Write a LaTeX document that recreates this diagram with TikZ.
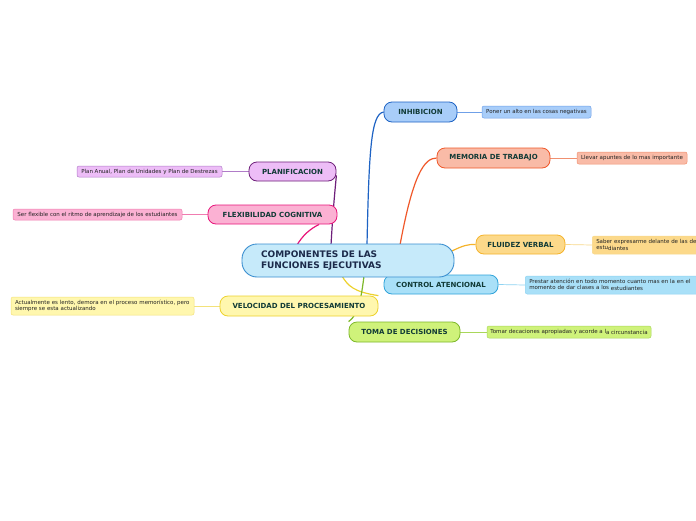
\documentclass[tikz,border=0pt]{standalone}
\usepackage{fontspec}
\setmainfont{DejaVu Sans}
\newfontfamily\lblfont{DejaVu Sans}
\definecolor{maintxt}{HTML}{1B2A4A}
\definecolor{brtxt}{HTML}{113A36}
\definecolor{leaftxt}{HTML}{222222}
\definecolor{mainfill}{HTML}{C6EAFA}
\definecolor{maindraw}{HTML}{3B8FD0}
\definecolor{inhfill}{HTML}{A8CDF9}
\definecolor{inhdraw}{HTML}{1E63C4}
\definecolor{inhleaf}{HTML}{6FA0E8}
\definecolor{memfill}{HTML}{F9BBA7}
\definecolor{memdraw}{HTML}{F0582A}
\definecolor{memleaf}{HTML}{F09070}
\definecolor{flufill}{HTML}{FCD98A}
\definecolor{fludraw}{HTML}{F5B32A}
\definecolor{fluleaf}{HTML}{F8D88A}
\definecolor{confill}{HTML}{A9E0F8}
\definecolor{condraw}{HTML}{2FA3DA}
\definecolor{conleaf}{HTML}{8ED3F2}
\definecolor{tomfill}{HTML}{CFF27A}
\definecolor{tomdraw}{HTML}{7DB82A}
\definecolor{tomleaf}{HTML}{A9D75A}
\definecolor{velfill}{HTML}{FFF7AE}
\definecolor{veldraw}{HTML}{EDD22E}
\definecolor{velleaf}{HTML}{F3E27A}
\definecolor{flxfill}{HTML}{FBB1D3}
\definecolor{flxdraw}{HTML}{E8147A}
\definecolor{flxleaf}{HTML}{F07CB0}
\definecolor{plafill}{HTML}{EDBDF7}
\definecolor{pladraw}{HTML}{6E1F7A}
\definecolor{plaleaf}{HTML}{B07CC8}
\pgfdeclarelayer{bg}
\pgfdeclarelayer{back}
\pgfsetlayers{back,bg,main}
\tikzset{
  mainbox/.style={draw=maindraw, fill=mainfill, line width=0.9pt, rounded corners=15pt,
    font=\lblfont\bfseries\fontsize{9}{10.8}\selectfont, text=maintxt, align=left,
    text width=174pt, inner xsep=19pt, inner ysep=0pt, minimum height=33pt, anchor=center},
  branch/.style={line width=0.8pt, rounded corners=8pt, inner sep=0pt,
    font=\lblfont\bfseries\fontsize{7}{8}\selectfont, text=brtxt, anchor=center},
  leaf/.style={line width=0.5pt, rounded corners=2pt, inner sep=0pt,
    font=\lblfont\fontsize{5.5}{6.6}\selectfont, text=leaftxt, anchor=center},
  conn/.style={line width=1.2pt},
  lconn/.style={line width=0.7pt}
}
\begin{document}
\begin{tikzpicture}[x=1pt,y=-1pt]
\useasboundingbox (0,0) rectangle (696,520);
\begin{pgfonlayer}{back}
\fill[white] (0,0) rectangle (696,520);
\end{pgfonlayer}

\coordinate (cInh) at (367,245);
\coordinate (cMem) at (400,245);
\coordinate (cPla) at (331,245);
\coordinate (cFlx) at (297,245);
\coordinate (cFlu) at (452,251);
\coordinate (cVel) at (342,276);
\coordinate (cTom) at (364,276);

% branch nodes
\node[branch, draw=inhdraw, fill=inhfill, minimum width=73pt, minimum height=20pt] (inh) at (420.5,112) {INHIBICION};
\node[branch, draw=memdraw, fill=memfill, minimum width=113pt, minimum height=20pt] (mem) at (493.5,158) {MEMORIA DE TRABAJO};
\node[branch, draw=fludraw, fill=flufill, minimum width=89pt, minimum height=19pt] (flu) at (520.5,244.5) {FLUIDEZ VERBAL};
\node[branch, draw=tomdraw, fill=tomfill, minimum width=111pt, minimum height=20pt] (tom) at (404.5,332) {TOMA DE DECISIONES};
\node[branch, draw=veldraw, fill=velfill, minimum width=158pt, minimum height=20pt] (vel) at (299,306) {VELOCIDAD DEL PROCESAMIENTO};
\node[branch, draw=flxdraw, fill=flxfill, minimum width=129pt, minimum height=19pt] (flx) at (272.5,214.5) {FLEXIBILIDAD COGNITIVA};
\node[branch, draw=pladraw, fill=plafill, minimum width=87pt, minimum height=19pt] (pla) at (292.5,171.5) {PLANIFICACION};

% leaves
\node[leaf, draw=inhleaf, fill=inhfill, minimum width=109pt, minimum height=12pt] (linh) at (536.5,112) {Poner un alto en las cosas negativas};
\node[leaf, draw=memleaf, fill=memfill, minimum width=110pt, minimum height=12pt] (lmem) at (632,158) {\raisebox{0.9pt}{Llevar ap}untes de lo mas importante};
\node[leaf, draw=fluleaf, fill=flufill, minimum width=130pt, minimum height=18pt, text width=122pt, align=left, inner xsep=4pt, anchor=west] (lflu) at (592,245) {Saber expresarme delante de las de\\\raisebox{0.9pt}{estu}diantes};
\node[leaf, draw=conleaf, fill=confill, minimum width=175pt, minimum height=18pt, text width=167pt, align=left, inner xsep=4pt, anchor=west] (lcon) at (525,285) {Prestar atención en todo momento cuanto mas en la en el\\\raisebox{0.9pt}{momento de dar clases a los} estudiantes};
\node[leaf, draw=tomleaf, fill=tomfill, minimum width=164pt, minimum height=12pt] (ltom) at (569,332) {\raisebox{0.9pt}{Tomar decaciones apropiadas y acorde a l}a circunstancia};
\node[leaf, draw=velleaf, fill=velfill, minimum width=183pt, minimum height=18pt, text width=175pt, align=left, inner xsep=4pt] (lvel) at (102.5,306) {Actualmente es lento, demora en el proceso memorístico, pero\\siempre se esta actualizando};
\node[leaf, draw=flxleaf, fill=flxfill, minimum width=169pt, minimum height=11pt] (lflx) at (97.5,214.5) {Ser flexible con el ritmo de aprendizaje de los estudiantes};
\node[leaf, draw=plaleaf, fill=plafill, minimum width=145pt, minimum height=11pt] (lpla) at (149.5,171.5) {Plan Anual, Plan de Unidades y Plan de Destrezas};

\begin{pgfonlayer}{bg}
% leaf connectors
\draw[lconn, inhleaf] (inh.east) -- (linh.west);
\draw[lconn, memleaf] (mem.east) -- (lmem.west);
\draw[lconn, fluleaf] (flu.east) -- (lflu.west);
\draw[lconn, tomleaf] (tom.east) -- (ltom.west);
\draw[lconn, velleaf] (vel.west) -- (lvel.east);
\draw[lconn, flxleaf] (flx.west) -- (lflx.east);
\draw[lconn, plaleaf] (pla.west) -- (lpla.east);
% main connectors (curves)
\draw[conn, inhdraw] (cInh) .. controls (369,150) and (371,114) .. (inh.west);
\draw[conn, memdraw] (cMem) .. controls (413,175) and (424,158) .. (mem.west);
\draw[conn, pladraw] (cPla) .. controls (333,210) and (335,190) .. (pla.-5);
\draw[conn, flxdraw] (cFlx) .. controls (303,235) and (310,229) .. (flx.-12);
\draw[conn, fludraw] (cFlu) .. controls (462,246) and (468,244) .. (flu.west);
\draw[conn, veldraw] (cVel) .. controls (348,286) and (354,292) .. (vel.north east);
\draw[conn, tomdraw] (cTom) .. controls (361,300) and (358,315) .. (tom.north west);
\end{pgfonlayer}

% control atencional and main
\node[branch, draw=condraw, fill=confill, minimum width=114pt, minimum height=19pt] (con) at (441,284.5) {CONTROL ATENCIONAL};
\begin{pgfonlayer}{bg}
\draw[lconn, conleaf] (con.east) -- (lcon.west);
\end{pgfonlayer}
\node[mainbox] (main) at (348,260.5) {COMPONENTES DE LAS\\FUNCIONES EJECUTIVAS};
\end{tikzpicture}
\end{document}
